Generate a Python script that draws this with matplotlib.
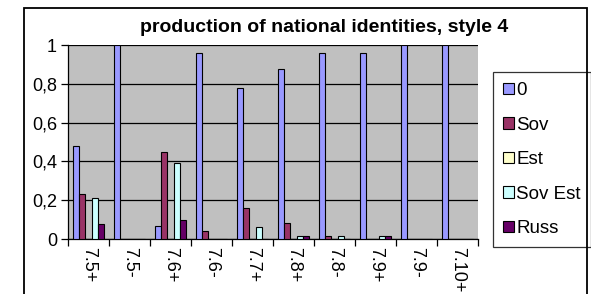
import numpy as np
import matplotlib
matplotlib.use("Agg")
import matplotlib.pyplot as plt
from matplotlib.patches import Rectangle

plt.rcParams['font.family'] = ['Liberation Sans', 'DejaVu Sans']

# data
categories = ["7.5+", "7.5-", "7.6+", "7.6-", "7.7+", "7.8+", "7.8-", "7.9+", "7.9-", "7.10+"]
series_names = ["0", "Sov", "Est", "Sov Est", "Russ"]
s_zero = [0.48, 1.0, 0.065, 0.96, 0.78, 0.875, 0.96, 0.96, 1.0, 1.0]
s_sov = [0.23, 0.0, 0.45, 0.04, 0.16, 0.085, 0.015, 0.0, 0.0, 0.0]
s_est = [0.0, 0.0, 0.0, 0.0, 0.0, 0.0, 0.0, 0.0, 0.0, 0.0]
s_sovest = [0.21, 0.0, 0.39, 0.0, 0.06, 0.015, 0.015, 0.015, 0.0, 0.0]
s_russ = [0.075, 0.0, 0.10, 0.0, 0.0, 0.015, 0.0, 0.015, 0.0, 0.0]
colors = ["#9999FF", "#993366", "#FFFFCC", "#CCFFFF", "#660066"]

W, H = 591, 294
fig = plt.figure(figsize=(W / 100, H / 100), dpi=100)

# outer chart border (runs off the bottom of the picture)
fig.patches.append(Rectangle((24 / W, -0.2), (587 - 24) / W, 1.2 - 8 / H,
                             transform=fig.transFigure, fill=False,
                             edgecolor="black", linewidth=1.3, clip_on=False))

ax = fig.add_axes([68 / W, (H - 239) / H, 410 / W, 194 / H])
ax.set_facecolor("#C0C0C0")

x = np.arange(len(categories))
w = 1 / 6.5
all_series = [s_zero, s_sov, s_est, s_sovest, s_russ]
for i, (vals, name, c) in enumerate(zip(all_series, series_names, colors)):
    ax.bar(x + (i - 2) * w, vals, width=w, color=c, edgecolor="black",
           linewidth=0.8, label=name, zorder=3)

ax.set_xlim(-0.5, len(categories) - 0.5)
ax.set_ylim(0, 1)
yt = [0, 0.2, 0.4, 0.6, 0.8, 1.0]
ax.set_yticks(yt)
ax.set_yticklabels(["0", "0,2", "0,4", "0,6", "0,8", "1"], fontsize=13)
ax.yaxis.grid(True, color="black", linewidth=0.9, zorder=1)
ax.set_axisbelow(True)

ax.set_xticks(np.arange(-0.5, len(categories), 1.0))
ax.set_xticklabels([])
ax.set_xticks(x, minor=True)
ax.set_xticklabels(categories, minor=True, rotation=-90, fontsize=13)
ax.tick_params(axis="x", which="minor", length=0, pad=6)
ax.tick_params(axis="x", which="major", length=5, width=0.9, direction="out")
ax.tick_params(axis="y", length=5, width=0.9, direction="out", pad=3)

for side in ["top", "right"]:
    ax.spines[side].set_visible(False)
ax.spines["left"].set_linewidth(0.9)
ax.spines["bottom"].set_linewidth(0.9)

fig.text(324 / W, 1 - 27 / H, "production of national identities, style 4",
         ha="center", va="center", fontsize=14, fontweight="bold")

leg = ax.legend(loc="upper left", bbox_to_anchor=(493 / W, 1 - 72 / H),
                bbox_transform=fig.transFigure, fontsize=13.5, frameon=True,
                fancybox=False, handlelength=0.55, handleheight=0.55,
                handletextpad=0.15, labelspacing=0.93, borderpad=0.55,
                borderaxespad=0)
leg.get_frame().set_edgecolor("black")
leg.get_frame().set_linewidth(0.9)

fig.savefig("out.png", dpi=100)
